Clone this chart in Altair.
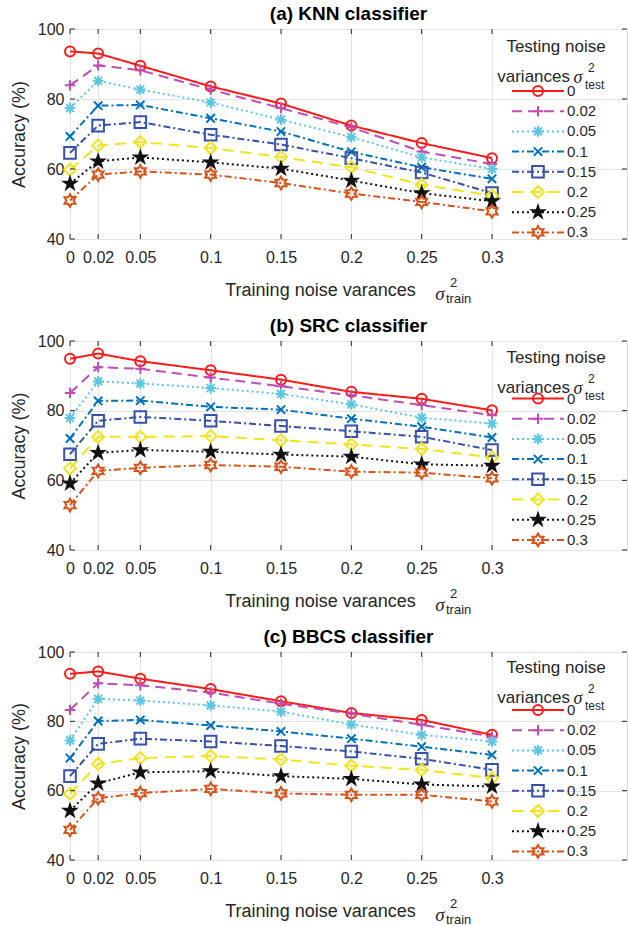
import altair as alt
import pandas as pd

# ---------------- data ----------------
train_var = [0, 0.02, 0.05, 0.1, 0.15, 0.2, 0.25, 0.3]
test_var = ["0", "0.02", "0.05", "0.1", "0.15", "0.2", "0.25", "0.3"]
y_ticks = [40, 60, 80, 100]

# (a) KNN classifier
knn_t000 = [93.6, 93.0, 89.5, 83.6, 78.7, 72.4, 67.4, 63.1]
knn_t002 = [83.9, 89.6, 88.2, 82.7, 77.4, 71.9, 65.0, 61.4]
knn_t005 = [77.4, 85.2, 82.7, 79.0, 74.1, 69.1, 63.3, 60.0]
knn_t010 = [69.3, 78.1, 78.3, 74.5, 70.7, 64.9, 60.5, 57.2]
knn_t015 = [64.6, 72.4, 73.4, 69.8, 67.0, 63.1, 59.0, 53.1]
knn_t020 = [59.8, 66.7, 67.7, 66.0, 63.4, 60.5, 55.5, 52.4]
knn_t025 = [55.8, 62.2, 63.3, 61.9, 60.1, 56.7, 53.1, 50.8]
knn_t030 = [51.0, 58.4, 59.3, 58.4, 56.0, 53.0, 50.6, 47.9]

# (b) SRC classifier
src_t000 = [94.9, 96.4, 94.2, 91.6, 88.9, 85.4, 83.4, 80.1]
src_t002 = [85.1, 92.5, 92.0, 89.5, 87.0, 84.4, 81.6, 78.7]
src_t005 = [77.9, 88.4, 87.8, 86.5, 84.8, 81.8, 78.0, 76.3]
src_t010 = [72.0, 82.8, 82.9, 81.1, 80.3, 77.7, 75.4, 72.3]
src_t015 = [67.5, 77.1, 78.2, 77.1, 75.6, 74.1, 72.5, 68.7]
src_t020 = [63.4, 72.5, 72.5, 72.7, 71.5, 70.3, 69.0, 66.6]
src_t025 = [59.1, 67.9, 68.7, 68.2, 67.4, 66.8, 64.6, 64.2]
src_t030 = [52.9, 62.7, 63.6, 64.4, 63.9, 62.5, 62.2, 60.6]

# (c) BBCS classifier
bbcs_t000 = [93.7, 94.4, 92.3, 89.3, 85.8, 82.4, 80.4, 76.1]
bbcs_t002 = [83.3, 91.0, 90.4, 88.3, 85.1, 82.2, 79.0, 75.6]
bbcs_t005 = [74.5, 86.5, 86.0, 84.6, 82.8, 79.1, 76.1, 74.2]
bbcs_t010 = [69.4, 80.1, 80.4, 78.8, 77.1, 75.0, 72.7, 70.3]
bbcs_t015 = [64.2, 73.5, 75.0, 74.2, 72.9, 71.3, 69.2, 66.0]
bbcs_t020 = [59.1, 67.7, 69.4, 70.0, 69.0, 67.2, 66.0, 63.6]
bbcs_t025 = [54.2, 62.1, 65.3, 65.6, 64.2, 63.4, 61.8, 61.2]
bbcs_t030 = [48.7, 57.8, 59.3, 60.5, 59.2, 58.8, 58.8, 56.9]

panel_titles = ["(a) KNN classifier", "(b) SRC classifier", "(c) BBCS classifier"]
panel_series = [
    [knn_t000, knn_t002, knn_t005, knn_t010, knn_t015, knn_t020, knn_t025, knn_t030],
    [src_t000, src_t002, src_t005, src_t010, src_t015, src_t020, src_t025, src_t030],
    [bbcs_t000, bbcs_t002, bbcs_t005, bbcs_t010, bbcs_t015, bbcs_t020, bbcs_t025, bbcs_t030],
]

# ---------------- styles ----------------
colors = ["#FF1A1A", "#BF4DB5", "#5CC6E2", "#0072BD", "#3551A8", "#F2E41C", "#111111", "#D95319"]
dashes = [[1, 0], [10, 6], [2, 3], [7, 3, 2, 3], [7, 3, 2, 3], [11, 7], [2, 3], [7, 3, 2, 3]]
STAR = ("M0,-1L0.2245,-0.309L0.951,-0.309L0.363,0.118L0.588,0.809L0,0.382"
        "L-0.588,0.809L-0.363,0.118L-0.951,-0.309L-0.2245,-0.309Z")
HEXA = ("M0,-1L0.2887,-0.5L0.866,-0.5L0.577,0L0.866,0.5L0.2887,0.5L0,1"
        "L-0.2887,0.5L-0.866,0.5L-0.577,0L-0.866,-0.5L-0.2887,-0.5Z")
shapes = ["circle", "M-1,0H1M0,-1V1",
          "M-1,0H1M0,-1V1M-0.72,-0.72L0.72,0.72M-0.72,0.72L0.72,-0.72",
          "M-0.75,-0.75L0.75,0.75M-0.75,0.75L0.75,-0.75",
          "square", "diamond", STAR, HEXA]
sizes = [100, 160, 130, 170, 50, 165, 185, 120]
fills = ["transparent"] * 6 + ["#111111", "transparent"]

W, H = 557, [210, 209, 208]
X_MAX = 0.3 * W / 422.0
AX = "#262626"
FONT = "Liberation Sans"
SERIF = "Liberation Serif"
legend_row0 = [62, 57.5, 58]
legend_tdy = [0, -1.5, -2.5]

col_scale = alt.Scale(domain=test_var, range=colors)
dash_scale = alt.Scale(domain=test_var, range=dashes)
shape_scale = alt.Scale(domain=test_var, range=shapes)
size_scale = alt.Scale(domain=test_var, range=sizes)
fill_scale = alt.Scale(domain=test_var, range=fills)

x_axis = alt.Axis(values=train_var, format="~g", title=None, grid=True,
                  gridColor="#E4E4E4", labelFlush=False, labelOverlap=False,
                  tickSize=0, domain=False, labelPadding=10, labelFontSize=16,
                  labelColor=AX, labelFont=FONT)
y_axis = alt.Axis(values=y_ticks, title="Accuracy (%)", grid=True,
                  gridColor="#E4E4E4", labelFlush=False, labelOverlap=False, tickSize=0,
                  domain=False, labelPadding=6, labelFontSize=16,
                  labelColor=AX, labelFont=FONT, titleFontSize=18,
                  titleFontWeight="normal", titleColor=AX, titleFont=FONT,
                  titlePadding=9)
x_scale = alt.Scale(domain=[0, X_MAX], nice=False, zero=False)
y_scale = alt.Scale(domain=[40, 100], nice=False, zero=False)


def label(text, x, y, size, align="left", font=FONT, style="normal"):
    return alt.Chart(pd.DataFrame({"t": [text]})).mark_text(
        font=font, fontSize=size, fontStyle=style, color=AX, align=align,
        baseline="alphabetic").encode(text="t:N", x=alt.value(x), y=alt.value(y))


def panel(i):
    h = H[i]
    rows = []
    for lab, vals in zip(test_var, panel_series[i]):
        for xv, v in zip(train_var, vals):
            rows.append({"train": xv, "acc": v, "test": lab})
    df = pd.DataFrame(rows)

    xenc = alt.X("train:Q", scale=x_scale, axis=x_axis)
    yenc = alt.Y("acc:Q", scale=y_scale, axis=y_axis)

    base = alt.Chart(df)
    lines = base.mark_line(strokeWidth=2).encode(
        x=xenc, y=yenc,
        stroke=alt.Stroke("test:N", scale=col_scale, legend=None),
        strokeDash=alt.StrokeDash("test:N", scale=dash_scale, legend=None),
        detail="test:N",
    )
    points = base.mark_point(opacity=1, strokeWidth=2, filled=False).encode(
        x=xenc, y=yenc,
        stroke=alt.Stroke("test:N", scale=col_scale, legend=None),
        fill=alt.Fill("test:N", scale=fill_scale, legend=None),
        shape=alt.Shape("test:N", scale=shape_scale, legend=None),
        size=alt.Size("test:N", scale=size_scale, legend=None),
    )

    # inward tick marks
    xt = alt.Chart(pd.DataFrame({"train": train_var}))
    yt = alt.Chart(pd.DataFrame({"acc": y_ticks}))
    tb = xt.mark_rule(color=AX, strokeWidth=1).encode(
        x=xenc, y=alt.value(h), y2=alt.value(h - 5))
    tt = xt.mark_rule(color=AX, strokeWidth=1).encode(
        x=xenc, y=alt.value(0), y2=alt.value(5))
    tl = yt.mark_rule(color=AX, strokeWidth=1).encode(
        y=yenc, x=alt.value(0), x2=alt.value(5))
    tr = yt.mark_rule(color=AX, strokeWidth=1).encode(
        y=yenc, x=alt.value(W), x2=alt.value(W - 5))

    # x axis title (text + sigma with sub/superscript)
    xt1 = label("Training noise varances", 250.5, h + 57, 18, align="center")
    xt2 = label("σ", 370, h + 61, 19, align="center", font=SERIF, style="italic")
    xt3 = label("2", 380, h + 48, 13)
    xt4 = label("train", 376, h + 64, 13)

    # legend (no box, inside top-right)
    r0 = legend_row0[i]
    td = legend_tdy[i]
    ldf = pd.DataFrame({"test": test_var, "ly": [r0 + 20.2 * k for k in range(len(test_var))]})
    lb = alt.Chart(ldf)
    ly = alt.Y("ly:Q", scale=None)
    lrule = lb.mark_rule(strokeWidth=2).encode(
        x=alt.value(442), x2=alt.value(494), y=ly,
        stroke=alt.Stroke("test:N", scale=col_scale, legend=None),
        strokeDash=alt.StrokeDash("test:N", scale=dash_scale, legend=None),
    )
    lpt = lb.mark_point(opacity=1, strokeWidth=2, filled=False).encode(
        x=alt.value(468), y=ly,
        stroke=alt.Stroke("test:N", scale=col_scale, legend=None),
        fill=alt.Fill("test:N", scale=fill_scale, legend=None),
        shape=alt.Shape("test:N", scale=shape_scale, legend=None),
        size=alt.Size("test:N", scale=size_scale, legend=None),
    )
    ltxt = lb.mark_text(font=FONT, fontSize=15, color=AX, align="left",
                        baseline="middle").encode(x=alt.value(497), y=ly, text="test:N")
    lt1 = label("Testing noise", 486, 23 + td, 17, align="center")
    lt2 = label("variances", 500, 53 + td, 17, align="right")
    lt3 = label("σ", 508, 54 + td, 18, align="center", font=SERIF, style="italic")
    lt4 = label("2", 518, 43 + td, 12)
    lt5 = label("test", 515, 60 + td, 12)

    return alt.layer(
        lines, points, tb, tt, tl, tr, xt1, xt2, xt3, xt4,
        lrule, lpt, ltxt, lt1, lt2, lt3, lt4, lt5,
    ).properties(
        width=W, height=h,
        title=alt.TitleParams(panel_titles[i], fontSize=19, fontWeight="bold",
                              color="#000000", anchor="middle", font=FONT, offset=-3),
    )


chart = alt.vconcat(panel(0), panel(1), panel(2), spacing=102, bounds="flush").properties(
    padding={"left": 9, "top": 4, "right": 0, "bottom": 0},
).configure_view(stroke=AX, strokeWidth=1).configure(font=FONT)

chart.save("out.html", embed_options={"renderer": "svg", "actions": False})
